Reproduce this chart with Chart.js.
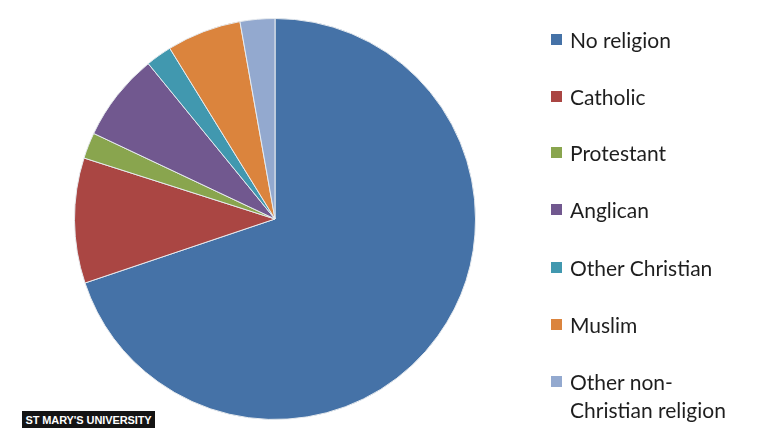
<!DOCTYPE html>
<html>
<head>
<meta charset="utf-8">
<script src="https://cdn.jsdelivr.net/npm/chart.js@4.4.1/dist/chart.umd.min.js"></script>
<style>
  html, body { margin: 0; padding: 0; background: #ffffff; }
  #wrap { position: relative; width: 768px; height: 428px; overflow: hidden; }
  #c { position: absolute; left: 0; top: 0; }
  #legend { position: absolute; left: 551px; top: 0; font-family: Lato, "Open Sans", sans-serif; font-size: 21px; color: #1e1e1e; }
  .item { position: absolute; left: 0; white-space: nowrap; line-height: 28px; }
  .sw { position: absolute; left: 0; width: 11px; height: 11px; }
  .txt { position: absolute; left: 19px; top: 0; }
  #badge { position: absolute; left: 22px; top: 411px; width: 133px; height: 20px; background: #141414; color: #fff; white-space: nowrap; overflow: hidden;
           font-family: "Liberation Sans", Arial, sans-serif; font-weight: bold; font-size: 11px; line-height: 19px; text-align: center; letter-spacing: -0.1px; }
</style>
</head>
<body>
<div id="wrap">
  <canvas id="c" width="768" height="428"></canvas>
  <div id="legend"></div>
  <div id="badge">ST MARY'S UNIVERSITY</div>
</div>
<script>
const categories = ["No religion", "Catholic", "Protestant", "Anglican", "Other Christian", "Muslim", "Other non-Christian religion"];
const legendLines = [["No religion"], ["Catholic"], ["Protestant"], ["Anglican"], ["Other Christian"], ["Muslim"], ["Other non-", "Christian religion"]];
const values = [69.9, 10.1, 2.1, 7.1, 2.1, 6.0, 2.8];
const colors = ["#4572A7", "#AA4643", "#89A54E", "#71588F", "#4198AF", "#DB843D", "#93A9CF"];

new Chart(document.getElementById('c'), {
  type: 'pie',
  data: {
    labels: categories,
    datasets: [{
      data: values,
      backgroundColor: colors,
      borderColor: '#e6eaee',
      borderWidth: 1
    }]
  },
  options: {
    responsive: false,
    animation: false,
    layout: { padding: { top: 18, bottom: 8, left: 74, right: 292 } },
    plugins: { legend: { display: false }, tooltip: { enabled: false } }
  }
});

const legend = document.getElementById('legend');
const rowY = [40, 97, 153, 210, 268, 325, 382];
legendLines.forEach((lines, i) => {
  const item = document.createElement('div');
  item.className = 'item';
  item.style.top = (rowY[i] - 14) + 'px';
  const sw = document.createElement('div');
  sw.className = 'sw';
  sw.style.background = colors[i];
  sw.style.top = '8px';
  const t = document.createElement('div');
  t.className = 'txt';
  t.innerHTML = lines.join('<br>');
  item.appendChild(sw);
  item.appendChild(t);
  legend.appendChild(item);
});
</script>
</body>
</html>
